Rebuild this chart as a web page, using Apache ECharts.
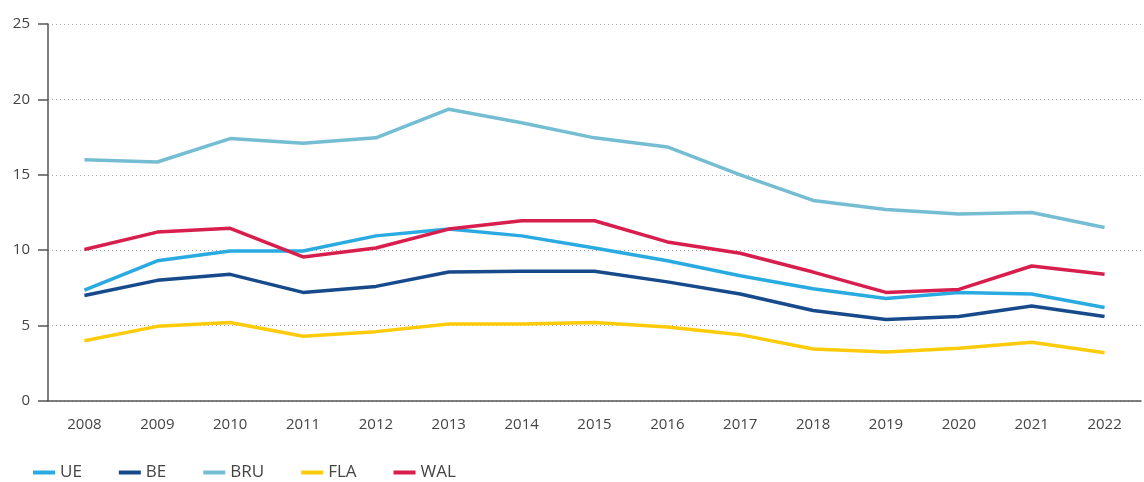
<!DOCTYPE html>
<html>
<head>
<meta charset="utf-8">
<script src="https://cdn.jsdelivr.net/npm/echarts@6/dist/echarts.min.js"></script>
<style>
  html, body { margin: 0; padding: 0; background: #fff; }
  #main { width: 1144px; height: 482px; }
</style>
</head>
<body>
<div id="main"></div>
<script>
var years = ['2008', '2009', '2010', '2011', '2012', '2013', '2014', '2015', '2016', '2017', '2018', '2019', '2020', '2021', '2022'];
var ue  = [7.35, 9.3, 9.95, 9.95, 10.95, 11.4, 10.95, 10.15, 9.3, 8.3, 7.45, 6.8, 7.2, 7.1, 6.2];
var be  = [7.0, 8.0, 8.4, 7.2, 7.6, 8.55, 8.6, 8.6, 7.9, 7.1, 6.0, 5.4, 5.6, 6.3, 5.6];
var bru = [16.0, 15.85, 17.4, 17.1, 17.45, 19.35, 18.45, 17.45, 16.85, 15.0, 13.3, 12.7, 12.4, 12.5, 11.5];
var fla = [4.0, 4.95, 5.2, 4.3, 4.6, 5.1, 5.1, 5.2, 4.9, 4.4, 3.45, 3.25, 3.5, 3.9, 3.2];
var wal = [10.05, 11.2, 11.45, 9.55, 10.15, 11.4, 11.95, 11.95, 10.55, 9.8, 8.55, 7.2, 7.4, 8.95, 8.4];

var chart = echarts.init(document.getElementById('main'), null, { renderer: 'canvas' });

function mk(name, data, color) {
  return {
    name: name, type: 'line', data: data,
    symbol: 'none', smooth: false,
    lineStyle: { color: color, width: 3.5 },
    itemStyle: { color: color }
  };
}

var option = {
  animation: false,
  textStyle: { fontFamily: '"Open Sans", sans-serif' },
  grid: { left: 48, right: 3, top: 24, bottom: 81 },
  legend: {
    left: 28, top: 459,
    icon: 'rect', itemWidth: 22, itemHeight: 4, itemGap: 37,
    textStyle: { fontSize: 17, color: '#444', fontFamily: '"Open Sans", sans-serif' },
    data: ['UE', 'BE', 'BRU', 'FLA', 'WAL']
  },
  xAxis: {
    type: 'category', data: years, boundaryGap: true,
    axisLine: { lineStyle: { color: '#555', width: 1.5 } },
    axisTick: { inside: true, length: 11, lineStyle: { color: '#555', width: 1.5 } },
    axisLabel: { color: '#444', fontSize: 15, margin: 16 }
  },
  yAxis: {
    type: 'value', min: 0, max: 25, interval: 5,
    axisLine: { show: true, lineStyle: { color: '#555', width: 1.5 } },
    axisTick: { show: true, length: 10, lineStyle: { color: '#555', width: 1.5 } },
    axisLabel: { color: '#444', fontSize: 15, margin: 18 },
    splitLine: { lineStyle: { color: '#aaa', type: [1, 3], width: 1 } }
  },
  series: [
    mk('BRU', bru, '#74bdd2'),
    mk('FLA', fla, '#fdcb0a'),
    mk('BE', be, '#174a8b'),
    mk('UE', ue, '#29aae1'),
    mk('WAL', wal, '#d81e4d')
  ]
};
chart.setOption(option);
</script>
</body>
</html>
